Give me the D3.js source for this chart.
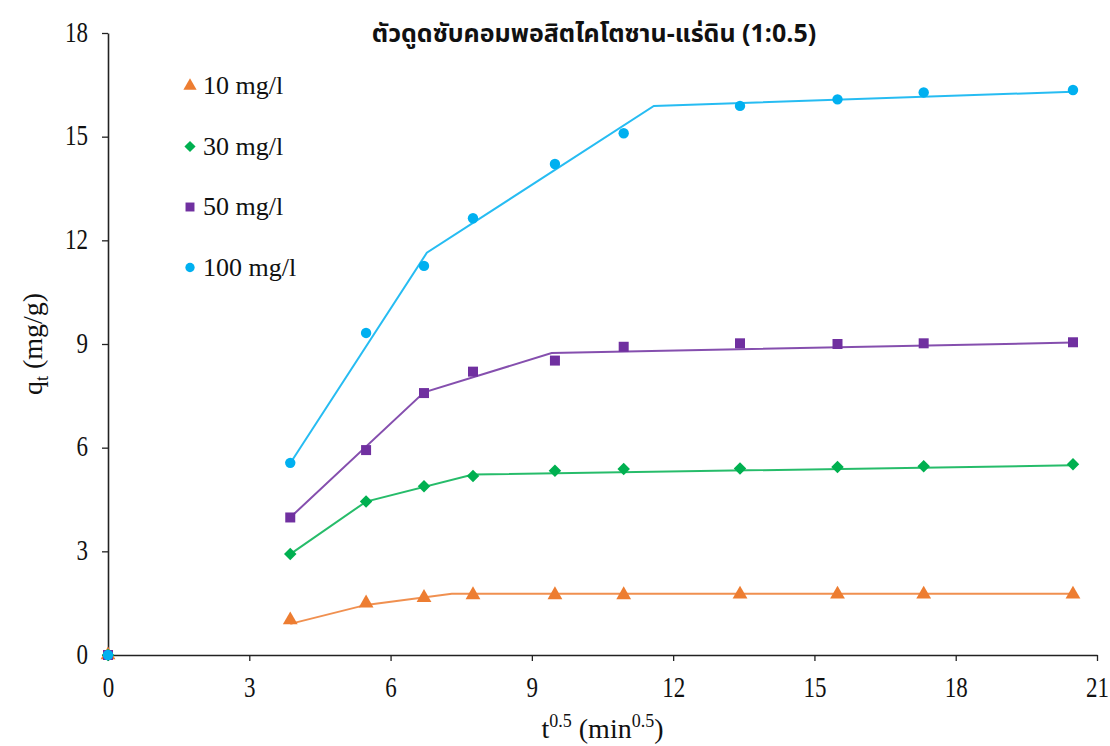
<!DOCTYPE html>
<html>
<head>
<meta charset="utf-8">
<script src="https://cdn.jsdelivr.net/npm/d3@7"></script>
<style>
  html, body { margin: 0; padding: 0; background: #fff; }
  svg { display: block; }
</style>
</head>
<body>
<svg id="chart" width="1110" height="746"></svg>
<script>
// Contact time axis (square root of minutes)
const tValues = [0, 3.87, 5.48, 6.71, 7.75, 9.49, 10.95, 13.42, 15.49, 17.32, 20.49];

// Adsorbed amount q_t (mg/g) for each initial concentration
const q10  = [0, 1.01, 1.50, 1.66, 1.74, 1.74, 1.74, 1.76, 1.76, 1.76, 1.76];
const q30  = [0, 2.92, 4.44, 4.88, 5.18, 5.33, 5.38, 5.40, 5.44, 5.46, 5.52];
const q50  = [0, 3.98, 5.93, 7.58, 8.20, 8.52, 8.92, 9.02, 9.00, 9.02, 9.05];
const q100 = [0, 5.56, 9.32, 11.26, 12.64, 14.21, 15.10, 15.89, 16.08, 16.28, 16.35];

// Multi-linear fit segments (breakpoints)
const fit10T  = [3.87, 5.48, 7.30, 20.49];
const fit10Q  = [0.90, 1.45, 1.77, 1.77];
const fit30T  = [3.87, 5.48, 7.75, 20.49];
const fit30Q  = [2.92, 4.44, 5.22, 5.49];
const fit50T  = [3.87, 6.71, 9.42, 20.49];
const fit50Q  = [3.98, 7.60, 8.74, 9.04];
const fit100T = [3.87, 6.77, 11.59, 20.49];
const fit100Q = [5.55, 11.64, 15.89, 16.30];

const seriesNames = ["10 mg/l", "30 mg/l", "50 mg/l", "100 mg/l"];
const xTicks = [0, 3, 6, 9, 12, 15, 18, 21];
const yTicks = [0, 3, 6, 9, 12, 15, 18];
const title = "ตัวดูดซับคอมพอสิตไคโตซาน-แร่ดิน (1:0.5)";

const series = [
  { name: seriesNames[0], q: q10,  fitT: fit10T,  fitQ: fit10Q,  color: "#ED7D31", shape: d3.symbolTriangle, size: 95,  rot: 0 },
  { name: seriesNames[1], q: q30,  fitT: fit30T,  fitQ: fit30Q,  color: "#00B050", shape: d3.symbolSquare,   size: 78,  rot: 45 },
  { name: seriesNames[2], q: q50,  fitT: fit50T,  fitQ: fit50Q,  color: "#7030A0", shape: d3.symbolSquare,   size: 100, rot: 0 },
  { name: seriesNames[3], q: q100, fitT: fit100T, fitQ: fit100Q, color: "#00B0F0", shape: d3.symbolCircle,   size: 85,  rot: 0 }
];

const svg = d3.select("#chart");
const margin = { left: 108, right: 13, top: 33, bottom: 91 };
const W = 1110, H = 746;

const x = d3.scaleLinear().domain([0, 21]).range([margin.left, W - margin.right]);
const y = d3.scaleLinear().domain([0, 18]).range([H - margin.bottom, margin.top]);

const serif = "'Liberation Serif', 'Times New Roman', serif";

// Axes
const xAxis = d3.axisBottom(x).tickValues(xTicks).tickSize(6).tickPadding(8).tickSizeOuter(0);
const yAxis = d3.axisLeft(y).tickValues(yTicks).tickSize(6).tickPadding(10).tickSizeOuter(0);

const gx = svg.append("g").attr("transform", `translate(0,${y(0)})`).call(xAxis);
const gy = svg.append("g").attr("transform", `translate(${x(0)},0)`).call(yAxis);

[gx, gy].forEach(g => {
  g.select(".domain").attr("stroke", "#222").attr("stroke-width", 1.6);
  g.selectAll(".tick line").attr("stroke", "#222").attr("stroke-width", 1.3);
  g.selectAll(".tick text").attr("fill", "#111").style("font-family", serif).style("font-size", "23px");
});
// Tall, narrow numerals on both axes
gx.selectAll(".tick text")
  .attr("y", 0).attr("dy", 0)
  .attr("transform", "translate(0,42) scale(1,1.25)");
gy.selectAll(".tick text")
  .attr("x", 0).attr("dy", 0)
  .attr("transform", "translate(-20,8) scale(1,1.25)");

// Fit lines
const line = d3.line().x(d => x(d[0])).y(d => y(d[1]));
svg.append("g").selectAll("path")
  .data(series)
  .join("path")
  .attr("d", s => line(s.fitT.map((t, i) => [t, s.fitQ[i]])))
  .attr("fill", "none")
  .attr("stroke", s => s.color)
  .attr("stroke-width", 2)
  .attr("stroke-opacity", 0.85);

// Data markers
series.forEach(s => {
  svg.append("g").selectAll("path")
    .data(tValues.map((t, i) => [t, s.q[i]]))
    .join("path")
    .attr("transform", d => `translate(${x(d[0])},${y(d[1])}) rotate(${s.rot})`)
    .attr("d", d3.symbol().type(s.shape).size(s.size))
    .attr("fill", s.color);
});

// Legend
const legend = svg.append("g");
series.forEach((s, i) => {
  const ly = 86 + i * 60.5;
  legend.append("path")
    .attr("transform", `translate(190,${ly}) rotate(${s.rot})`)
    .attr("d", d3.symbol().type(s.shape).size(s.size * 0.8))
    .attr("fill", s.color);
  legend.append("text")
    .attr("x", 203).attr("y", ly + 8)
    .style("font-family", serif).style("font-size", "26px").attr("fill", "#111")
    .text(s.name);
});

// Title
svg.append("text")
  .attr("x", 594).attr("y", 42)
  .attr("text-anchor", "middle")
  .style("font-family", "Tahoma, 'Noto Sans Thai', 'Leelawadee UI', 'DejaVu Sans', sans-serif")
  .style("font-size", "25px").style("font-weight", "bold").attr("fill", "#111")
  .text(title);

// Axis titles
const yt = svg.append("text")
  .attr("transform", `translate(42,${(y(0) + y(18)) / 2}) rotate(-90)`)
  .attr("text-anchor", "middle")
  .style("font-family", serif).style("font-size", "28px").attr("fill", "#111");
yt.append("tspan").text("q");
yt.append("tspan").attr("dy", 6).style("font-size", "18px").text("t");
yt.append("tspan").attr("dy", -6).text(" (mg/g)");

const xt = svg.append("text")
  .attr("x", (x(0) + x(21)) / 2).attr("y", 738)
  .attr("text-anchor", "middle")
  .style("font-family", serif).style("font-size", "28px").attr("fill", "#111");
xt.append("tspan").text("t");
xt.append("tspan").attr("dy", -11).style("font-size", "18px").text("0.5");
xt.append("tspan").attr("dy", 11).text(" (min");
xt.append("tspan").attr("dy", -11).style("font-size", "18px").text("0.5");
xt.append("tspan").attr("dy", 11).text(")");
</script>
</body>
</html>
